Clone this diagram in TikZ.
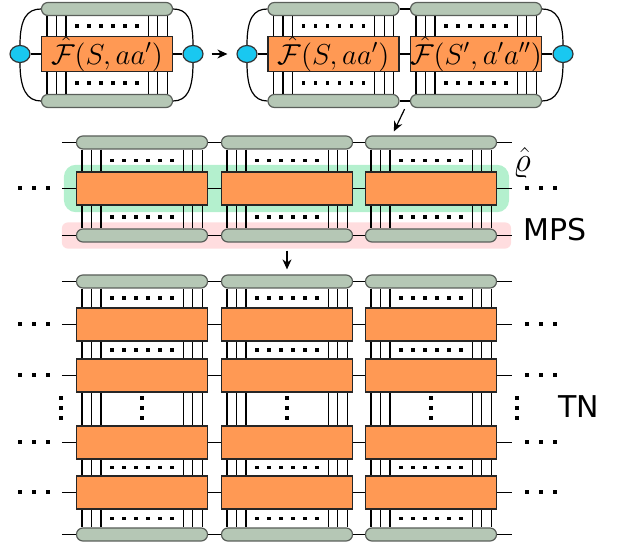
\documentclass[tikz,border=0pt]{standalone}
\usepackage{amsmath,amssymb}
\usepackage{fontspec}
\newfontfamily\sflabel{DejaVu Sans}
\usepackage{tikz}
\usetikzlibrary{positioning,shapes.geometric,arrows.meta,fit,backgrounds,calc}

\definecolor{tensor}{RGB}{255,153,84}
\definecolor{envbar}{RGB}{181,199,181}
\definecolor{envedge}{RGB}{90,95,90}
\definecolor{legcol}{RGB}{25,200,240}
\definecolor{rhoband}{RGB}{180,240,206}
\definecolor{mpsband}{RGB}{255,221,223}

\newcommand{\innerdots}[2]{\foreach \o in {-30,-18,-6,6,18,30}
  \fill ($(#1.south)!0.5!(#2.north)+(\o,0)$) +(-1.7,-1.7) rectangle +(1.7,1.7);}
\newcommand{\rowdots}[2]{\foreach \o in {-14,0,14}
  \fill ({#1+\o},#2) +(-2,-2) rectangle +(2,2);}
\newcommand{\coldots}[1]{\foreach \o in {398,408,418}
  \fill (#1,\o) +(-1.6,-1.6) rectangle +(1.6,1.6);}

\begin{document}
\begin{tikzpicture}[x=0.5pt,y=-0.5pt,line width=0.6pt,
  tens/.style={draw=black!85,fill=tensor,minimum width=65.5pt,minimum height=16.5pt,inner sep=0pt,font=\Large},
  envb/.style={draw=envedge,fill=envbar,rounded corners=3.2pt,minimum width=65.5pt,minimum height=6.5pt,inner sep=0pt},
  leg/.style={ellipse,draw=black!80,fill=legcol,minimum width=10pt,minimum height=8.5pt,inner sep=0pt},
  arr/.style={-{Stealth[length=5pt,width=4.5pt]}}]
\useasboundingbox (0,0) rectangle (622,549);

% Un tensor
\node[envb] (at) at (107,9) {};
\node[envb] (ab) at (107,101) {};
\foreach \s in {3,7.75,12.5} {
  \draw ([xshift=\s pt]at.south west) -- ([xshift=\s pt]ab.north west);
  \draw ([xshift=-\s pt]at.south east) -- ([xshift=-\s pt]ab.north east);
}
\node[tens] (af) at (107,54) {$\hat{\mathcal{F}}(S,aa')$};
\node[leg] (al) at (20,54) {};
\node[leg] (ar) at (193,54) {};
\draw (al) -- (af) -- (ar);
\draw (al.north) .. controls +(0,-26) and +(-14,0) .. (at.west);
\draw (al.south) .. controls +(0,26) and +(-14,0) .. (ab.west);
\draw (ar.north) .. controls +(0,-26) and +(14,0) .. (at.east);
\draw (ar.south) .. controls +(0,26) and +(14,0) .. (ab.east);
\innerdots{at}{af}
\innerdots{af}{ab}

% Dos tensores
\foreach \c/\x in {1/333.5,2/476} {
  \node[envb] (bt\c) at (\x,9) {};
  \node[envb] (bb\c) at (\x,101) {};
  \foreach \s in {3,7.75,12.5} {
    \draw ([xshift=\s pt]bt\c.south west) -- ([xshift=\s pt]bb\c.north west);
    \draw ([xshift=-\s pt]bt\c.south east) -- ([xshift=-\s pt]bb\c.north east);
  }
}
\node[tens] (bf1) at (333.5,54) {$\hat{\mathcal{F}}(S,aa')$};
\node[tens] (bf2) at (476,54) {$\hat{\mathcal{F}}(S',a'a'')$};
\foreach \c in {1,2} {
  \innerdots{bt\c}{bf\c}
  \innerdots{bf\c}{bb\c}
}
\node[leg] (bl) at (247,54) {};
\node[leg] (br) at (563,54) {};
\draw (bt1) -- (bt2) (bb1) -- (bb2);
\draw (bl) -- (bf1) -- (bf2) -- (br);
\draw (bl.north) .. controls +(0,-26) and +(-14,0) .. (bt1.west);
\draw (bl.south) .. controls +(0,26) and +(-14,0) .. (bb1.west);
\draw (br.north) .. controls +(0,-26) and +(14,0) .. (bt2.east);
\draw (br.south) .. controls +(0,26) and +(14,0) .. (bb2.east);
\draw[arr,shorten <=4pt,shorten >=4.5pt] (ar) -- (bl);

% MPS
\foreach \c/\x in {1/142,2/287,3/431} {
  \node[envb] (mt\c) at (\x,142.5) {};
  \node[envb] (mb\c) at (\x,235.5) {};
  \foreach \s in {3,7.75,12.5} {
    \draw ([xshift=\s pt]mt\c.south west) -- ([xshift=\s pt]mb\c.north west);
    \draw ([xshift=-\s pt]mt\c.south east) -- ([xshift=-\s pt]mb\c.north east);
  }
  \node[tens] (mf\c) at (\x,188.5) {};
  \innerdots{mt\c}{mf\c}
  \innerdots{mf\c}{mb\c}
}
\foreach \n in {mt,mf,mb}
  \draw ([xshift=-7pt]\n1.west) -- (\n1) -- (\n2) -- (\n3) -- ([xshift=7.5pt]\n3.east);
\begin{scope}[on background layer]
  \node[fit=(mf1)(mf3),fill=rhoband,rounded corners=6pt,inner xsep=6pt,inner ysep=3.3pt] (rhobox) {};
  \node[fit=(mb1)(mb3),fill=mpsband,rounded corners=3pt,inner xsep=7pt,inner ysep=3pt] (mpsbox) {};
\end{scope}
\rowdots{33.5}{188.5}
\rowdots{541}{188.5}
\node[inner sep=0pt] (rho) at (522,163) {\fontsize{17}{20}\selectfont$\hat{\varrho}$};
\node[anchor=west,inner sep=0pt] (mps) at (523,230) {\sflabel\fontsize{15}{18}\selectfont MPS};
\draw[arr] ([xshift=2.5pt,yshift=-0.5pt]bb1.south east) -- ([xshift=14.5pt,yshift=2pt]mt3.north west);

% Red de tensores
\foreach \c/\x in {1/142,2/287,3/431} {
  \node[envb] (gt\c) at (\x,281.5) {};
  \node[envb] (gb\c) at (\x,534.5) {};
  \foreach \s in {3,7.75,12.5} {
    \draw ([xshift=\s pt]gt\c.south west) -- ([xshift=\s pt]gb\c.north west);
    \draw ([xshift=-\s pt]gt\c.south east) -- ([xshift=-\s pt]gb\c.north east);
  }
  \foreach \r/\y in {1/324.5,2/375.5,3/442.5,4/492.5}
    \node[tens] (g\r\c) at (\x,\y) {};
  \innerdots{gt\c}{g1\c}
  \innerdots{g1\c}{g2\c}
  \innerdots{g3\c}{g4\c}
  \innerdots{g4\c}{gb\c}
  \coldots{\x}
}
\foreach \n in {gt,g1,g2,g3,g4,gb}
  \draw ([xshift=-7pt]\n1.west) -- (\n1) -- (\n2) -- (\n3) -- ([xshift=7.5pt]\n3.east);
\foreach \y in {324.5,375.5,442.5,492.5} {
  \rowdots{33.5}{\y}
  \rowdots{541}{\y}
}
\coldots{61}
\coldots{517}
\node[anchor=west,inner sep=0pt] (tn) at (558,407) {\sflabel\fontsize{15}{18}\selectfont TN};
\draw[arr] ([yshift=-4pt]mb2.south) -- ([yshift=2.5pt]gt2.north);
\end{tikzpicture}
\end{document}
